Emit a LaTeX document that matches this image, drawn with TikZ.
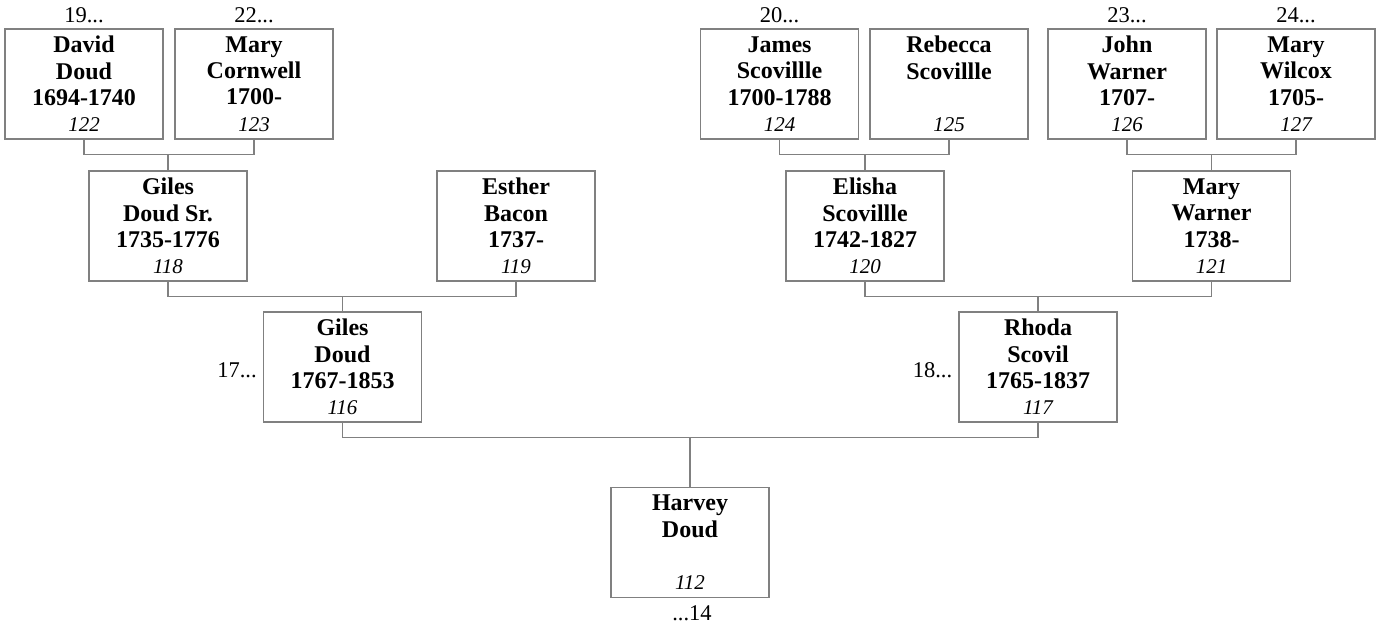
\documentclass[tikz,border=0pt]{standalone}
\usepackage{fontspec}
\setmainfont{Liberation Serif}
\definecolor{linegray}{RGB}{128,128,128}
\newcommand\pnum[1]{{\fontsize{21}{24}\selectfont\mdseries\itshape #1}}
\begin{document}
\begin{tikzpicture}[x=1pt,y=-1pt,
  person/.style={draw=linegray, line width=1.2pt, fill=white, minimum width=158pt,
    minimum height=110pt, inner sep=0pt, align=center,
    font=\fontsize{24}{26.3}\selectfont\bfseries},
  conn/.style={draw=linegray, line width=1.2pt},
  gen/.style={font=\fontsize{22.5}{26}\selectfont, inner sep=0pt}]
\useasboundingbox (0,0) rectangle (1380,628);
% generation 1
\node[person] (dd) at (84,84) {David\\Doud\\1694-1740\\\pnum{122}};
\node[person] (mc) at (254,84) {Mary\\Cornwell\\1700-\\\pnum{123}};
\node[person] (js) at (779.5,84) {James\\Scovillle\\1700-1788\\\pnum{124}};
\node[person] (rb) at (949,84) {Rebecca\\Scovillle\\\mbox{}\\\pnum{125}};
\node[person] (jw) at (1127,84) {John\\Warner\\1707-\\\pnum{126}};
\node[person] (mwi) at (1296,84) {Mary\\Wilcox\\1705-\\\pnum{127}};
% generation 2
\node[person] (gs) at (168,226) {Giles\\Doud Sr.\\1735-1776\\\pnum{118}};
\node[person] (eb) at (516,226) {Esther\\Bacon\\1737-\\\pnum{119}};
\node[person] (es) at (865,226) {Elisha\\Scovillle\\1742-1827\\\pnum{120}};
\node[person] (mw) at (1211.5,226) {Mary\\Warner\\1738-\\\pnum{121}};
% generation 3
\node[person] (gd) at (342.5,367) {Giles\\Doud\\1767-1853\\\pnum{116}};
\node[person] (rs) at (1038,367) {Rhoda\\Scovil\\1765-1837\\\pnum{117}};
% generation 4
\node[person] (hv) at (690,542.5) {Harvey\\Doud\\\mbox{}\\\pnum{112}};
% labels
\node[gen, anchor=base] (l19) at ([yshift=6pt]dd.north) {19...};
\node[gen, anchor=base] (l22) at ([yshift=6pt]mc.north) {22...};
\node[gen, anchor=base] (l20) at ([yshift=6pt]js.north) {20...};
\node[gen, anchor=base] (l23) at ([yshift=6pt]jw.north) {23...};
\node[gen, anchor=base] (l24) at ([yshift=6pt]mwi.north) {24...};
\node[gen, anchor=base east] (l17) at ([xshift=-6pt,yshift=-10pt]gd.west) {17...};
\node[gen, anchor=base east] (l18) at ([xshift=-6pt,yshift=-10pt]rs.west) {18...};
\node[gen, anchor=base] (l14) at ([xshift=2pt,yshift=-22pt]hv.south) {...14};
% connectors
\coordinate (j1) at ([yshift=-15pt]dd.south);
\draw[conn] (dd.south) -- (j1) -| (mc.south);
\draw[conn] (gs.north) -- (gs.north |- j1);
\coordinate (j2) at ([yshift=-15pt]js.south);
\draw[conn] (js.south) -- (j2) -| (rb.south);
\draw[conn] (es.north) -- (es.north |- j2);
\coordinate (j3) at ([yshift=-15pt]jw.south);
\draw[conn] (jw.south) -- (j3) -| (mwi.south);
\draw[conn] (mw.north) -- (mw.north |- j3);
\coordinate (j4) at ([yshift=-15pt]gs.south);
\draw[conn] (gs.south) -- (j4) -| (eb.south);
\draw[conn] (gd.north) -- (gd.north |- j4);
\coordinate (j5) at ([yshift=-15pt]es.south);
\draw[conn] (es.south) -- (j5) -| (mw.south);
\draw[conn] (rs.north) -- (rs.north |- j5);
\coordinate (j6) at ([yshift=-15pt]gd.south);
\draw[conn] (gd.south) -- (j6) -| (rs.south);
\draw[conn] (hv.north) -- (hv.north |- j6);
\end{tikzpicture}
\end{document}
